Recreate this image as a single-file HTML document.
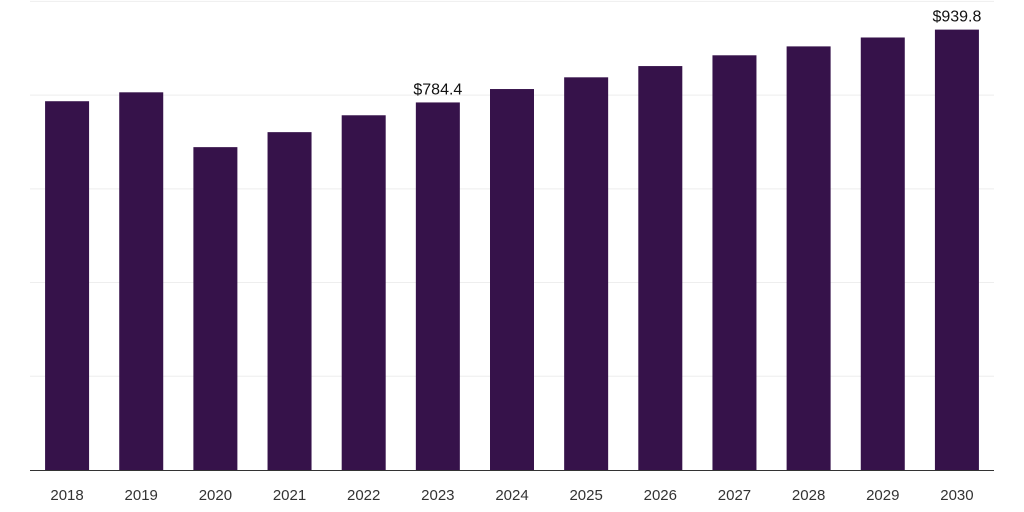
<!DOCTYPE html>
<html><head><meta charset="utf-8"><style>
body{margin:0;background:#fff;font-family:"Liberation Sans",Arial,sans-serif}
svg{display:block}
</style></head><body>
<svg id="chart" width="1024" height="512"></svg>
<script>
const years=["2018","2019","2020","2021","2022","2023","2024","2025","2026","2027","2028","2029","2030"];
const values=[787,806,689,721,757,784.4,813,838,862,885,904,923,939.8];
const labelShown=["","","","","","$784.4","","","","","","","$939.8"];
const gridTicks=[200,400,600,800,1000];
const NS="http://www.w3.org/2000/svg";
const svg=document.getElementById('chart');
const left=30,right=994,base=470,top0=0,maxV=1003;
const band=(right-left)/years.length,bw=44;
const y=v=>base-(v/maxV)*(base-top0);
const x=i=>left+band*i+band/2;
function mk(t,a){const e=document.createElementNS(NS,t);for(const k in a)e.setAttribute(k,a[k]);svg.appendChild(e);return e;}
gridTicks.forEach(t=>{const g=mk('line',{x1:left,x2:right,y1:y(t),y2:y(t),stroke:'#eeeeee','stroke-width':1});

});
years.forEach((yr,i)=>{
const r=mk('rect',{x:x(i)-bw/2,y:y(values[i]),width:bw,height:base-y(values[i]),fill:'#36124a'});


const t=mk('text',{x:x(i),y:500,'text-anchor':'middle','font-size':15,fill:'#333'});t.textContent=yr;


if(labelShown[i]){const l=mk('text',{x:x(i),y:y(values[i])-8,'text-anchor':'middle','font-size':16,fill:'#111'});l.textContent=labelShown[i];

}
});
const ax=mk('line',{x1:left,x2:right,y1:base+0.5,y2:base+0.5,stroke:'#333','stroke-width':1});


</script>
</body></html>
